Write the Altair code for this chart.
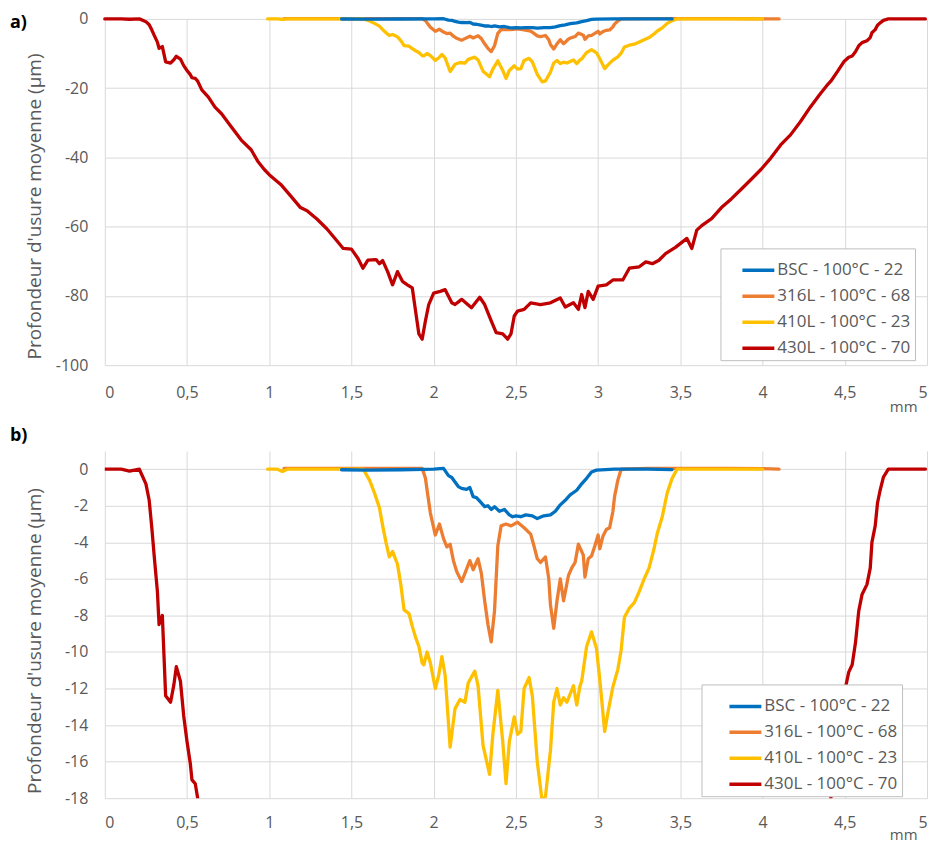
import altair as alt
import pandas as pd

FONT = "Open Sans"
GRAY = "#595959"
GRID = "#d9d9d9"

series_names = ["BSC - 100°C - 22", "316L - 100°C - 68", "410L - 100°C - 23", "430L - 100°C - 70"]
series_colors = ["#0070C0", "#ED7D31", "#FFC000", "#C00000"]
draw_order = [3, 1, 2, 0]  # bottom -> top

# (x in mm, depth in µm)
bsc_pts = [
    [1.44, -0.03], [1.6, -0.05], [1.8, -0.03], [2.0, 0.0], [2.06, 0.05], [2.09, -0.35], [2.11, -0.45],
    [2.13, -0.7], [2.15, -0.95], [2.17, -1.05], [2.20, -1.1], [2.22, -1.0], [2.24, -1.5], [2.26, -1.55],
    [2.28, -1.75], [2.31, -2.05], [2.33, -2.0], [2.35, -2.2], [2.37, -2.05], [2.40, -2.3], [2.43, -2.2],
    [2.46, -2.5], [2.48, -2.6], [2.50, -2.55], [2.53, -2.6], [2.56, -2.5], [2.60, -2.55], [2.63, -2.7],
    [2.67, -2.55], [2.71, -2.5], [2.74, -2.3], [2.77, -1.95], [2.80, -1.7], [2.83, -1.4], [2.87, -1.15],
    [2.90, -0.8], [2.93, -0.5], [2.96, -0.15], [2.99, -0.05], [3.1, 0.0], [3.3, 0.0], [3.45, -0.02],
]
s316_pts = [
    [1.09, 0.05], [1.3, 0.05], [1.5, 0.05], [1.7, 0.05], [1.93, 0.05], [1.95, -0.5], [1.96, -1.15],
    [1.98, -2.4], [2.01, -3.6], [2.035, -3.0], [2.06, -3.8], [2.08, -4.25], [2.10, -4.1], [2.12, -5.0],
    [2.14, -5.6], [2.17, -6.15], [2.19, -5.7], [2.22, -5.0], [2.23, -5.25], [2.24, -5.5], [2.27, -4.9],
    [2.29, -5.7], [2.31, -7.2], [2.33, -8.5], [2.35, -9.45], [2.37, -7.75], [2.39, -4.2], [2.41, -3.1],
    [2.44, -3.0], [2.47, -3.1], [2.51, -2.9], [2.55, -3.2], [2.59, -3.55], [2.61, -4.2], [2.63, -4.9],
    [2.65, -5.1], [2.68, -4.8], [2.70, -6.0], [2.71, -7.4], [2.73, -8.7], [2.75, -7.2], [2.77, -6.0],
    [2.79, -7.2], [2.82, -5.8], [2.84, -5.4], [2.86, -5.1], [2.88, -4.1], [2.91, -4.7], [2.92, -5.9],
    [2.94, -4.9], [2.96, -4.75], [2.98, -4.2], [3.0, -3.6], [3.01, -4.35], [3.03, -3.65], [3.05, -3.3],
    [3.07, -3.2], [3.09, -2.3], [3.10, -1.5], [3.12, -0.6], [3.14, 0.0], [3.3, 0.05], [3.5, 0.05],
    [3.8, 0.05], [4.0, 0.03], [4.1, 0.0],
]
s410_pts = [
    [0.99, 0.0], [1.05, 0.0], [1.08, -0.12], [1.11, 0.0], [1.3, 0.0], [1.5, 0.0], [1.572, 0.0],
    [1.61, -0.6], [1.64, -1.3], [1.67, -2.1], [1.69, -3.1], [1.71, -4.0], [1.73, -4.8], [1.75, -4.5],
    [1.78, -5.2], [1.80, -6.3], [1.82, -7.7], [1.85, -7.9], [1.87, -8.6], [1.89, -9.2], [1.91, -9.7],
    [1.93, -10.6], [1.94, -10.7], [1.96, -10.0], [1.98, -10.6], [2.01, -12.0], [2.03, -11.3],
    [2.05, -10.25], [2.07, -11.3], [2.10, -15.2], [2.13, -13.1], [2.16, -12.6], [2.19, -12.75],
    [2.21, -11.7], [2.25, -11.05], [2.27, -11.85], [2.30, -15.1], [2.34, -16.7], [2.36, -14.5],
    [2.39, -12.1], [2.42, -14.9], [2.44, -17.2], [2.46, -14.9], [2.49, -13.55], [2.51, -14.5],
    [2.53, -14.35], [2.55, -12.0], [2.58, -11.4], [2.60, -12.4], [2.63, -16.0], [2.66, -18.2],
    [2.68, -17.9], [2.71, -15.4], [2.73, -12.75], [2.75, -12.0], [2.77, -12.9], [2.79, -12.5],
    [2.81, -12.75], [2.85, -11.85], [2.87, -12.9], [2.89, -11.85], [2.90, -11.6], [2.93, -9.7],
    [2.96, -8.9], [2.99, -9.8], [3.01, -11.5], [3.04, -14.35], [3.06, -13.3], [3.09, -11.9],
    [3.12, -10.95], [3.14, -9.9], [3.16, -8.1], [3.19, -7.6], [3.22, -7.3], [3.25, -6.7], [3.28, -6.0],
    [3.31, -5.4], [3.34, -4.35], [3.36, -3.5], [3.39, -2.6], [3.42, -1.3], [3.45, -0.5], [3.48, 0.0],
    [3.7, 0.0], [4.0, 0.0],
]
s430_pts = [
    [0.0, 0.0], [0.1, 0.0], [0.15, -0.1], [0.21, 0.0], [0.23, -0.4], [0.25, -0.8], [0.27, -1.7],
    [0.287, -3.3], [0.30, -4.7], [0.32, -6.7], [0.33, -8.5], [0.35, -8.0], [0.36, -10.2], [0.37, -12.4],
    [0.40, -12.75], [0.42, -11.8], [0.435, -10.8], [0.46, -11.6], [0.48, -13.5], [0.50, -14.9],
    [0.52, -16.1], [0.53, -17.0], [0.55, -17.2], [0.565, -18.0], [0.59, -20.5], [0.63, -22.6],
    [0.67, -25.5], [0.71, -27.4], [0.77, -31.2], [0.83, -35.0], [0.89, -37.8], [0.93, -41.1],
    [0.97, -43.5], [1.0, -45.0], [1.07, -47.8], [1.13, -51.1], [1.19, -54.5], [1.23, -55.4],
    [1.29, -57.8], [1.35, -60.6], [1.41, -64.0], [1.45, -66.3], [1.5, -66.5], [1.54, -69.2],
    [1.57, -72.0], [1.60, -69.7], [1.65, -69.5], [1.67, -70.7], [1.69, -69.8], [1.72, -73.0],
    [1.75, -76.8], [1.78, -73.0], [1.81, -75.8], [1.84, -76.8], [1.87, -77.7], [1.89, -84.4],
    [1.91, -91.0], [1.93, -92.5], [1.95, -87.2], [1.97, -82.5], [2.0, -79.2], [2.04, -78.7],
    [2.07, -78.2], [2.11, -82.0], [2.13, -82.5], [2.17, -81.0], [2.23, -83.4], [2.28, -80.4],
    [2.31, -82.5], [2.35, -87.2], [2.38, -90.6], [2.42, -91.0], [2.45, -92.5], [2.47, -91.0],
    [2.49, -85.8], [2.51, -84.4], [2.55, -83.9], [2.59, -82.0], [2.65, -82.5], [2.71, -82.0],
    [2.77, -80.6], [2.80, -83.2], [2.85, -82.0], [2.88, -83.9], [2.90, -79.6], [2.92, -83.4],
    [2.94, -78.7], [2.97, -81.0], [3.0, -77.2], [3.05, -76.8], [3.09, -75.4], [3.15, -75.4],
    [3.19, -72.0], [3.25, -71.6], [3.29, -70.2], [3.33, -70.7], [3.37, -69.7], [3.41, -67.8],
    [3.47, -66.0], [3.54, -63.4], [3.57, -66.3], [3.60, -61.0], [3.63, -59.7], [3.69, -57.7],
    [3.75, -54.5], [3.81, -52.0], [3.87, -49.2], [3.93, -46.4], [3.99, -43.5], [4.05, -40.2],
    [4.11, -36.4], [4.17, -33.5], [4.23, -29.7], [4.29, -25.5], [4.35, -21.7], [4.39, -19.3],
    [4.415, -18.0], [4.455, -15.25], [4.494, -12.4], [4.524, -11.1], [4.545, -10.7], [4.565, -9.5],
    [4.585, -7.75], [4.605, -6.85], [4.635, -6.3], [4.655, -5.4], [4.665, -4.0], [4.685, -3.1],
    [4.699, -1.85], [4.715, -1.15], [4.735, -0.43], [4.765, 0.0], [4.9, 0.0], [4.99, 0.0],
]

x_ticks = [0, 0.5, 1, 1.5, 2, 2.5, 3, 3.5, 4, 4.5, 5]
ya_ticks = [-100, -80, -60, -40, -20, 0]
yb_ticks = [-18, -16, -14, -12, -10, -8, -6, -4, -2, 0]
panel_tags = ["a)", "b)"]
y_title = "Profondeur d'usure moyenne (µm)"
x_title = "mm"

rows = []
for name, pts in zip(series_names, [bsc_pts, s316_pts, s410_pts, s430_pts]):
    for i, (xv, yv) in enumerate(pts):
        rows.append({"serie": name, "x": xv, "y": yv, "i": i})
df = pd.DataFrame(rows)

W = 824


def panel(tag, ydom, yticks, H, leg_x, leg_y, sym_off, right_gap, clip, tag_y, mm_y, lab_pad, title_shift):
    # right_gap: number of non-breaking spaces giving the legend frame its right margin
    gap = "\u00a0" * right_gap
    color = alt.Color(
        "serie:N",
        scale=alt.Scale(domain=series_names, range=series_colors),
        sort=series_names,
        legend=alt.Legend(
            title=None, orient="none", legendX=leg_x, legendY=leg_y,
            symbolType="stroke", symbolSize=1024, symbolStrokeWidth=3.5,
            labelFont=FONT, labelFontSize=17, labelColor=GRAY, labelOffset=1,
            labelExpr="datum.label + '" + gap + "'",
            fillColor="white", strokeColor="#bfbfbf", padding=4,
            rowPadding=0, symbolOffset=sym_off,
        ),
    )
    x = alt.X(
        "x:Q",
        scale=alt.Scale(domain=[0, 5], nice=False, zero=False),
        axis=alt.Axis(
            values=x_ticks, title=x_title,
            labelExpr="replace('' + datum.value, '.', ',')",
            labelFont=FONT, labelFontSize=16, labelColor=GRAY, labelPadding=lab_pad,
            titleFont=FONT, titleFontSize=15, titleFontWeight="normal", titleColor=GRAY,
            titleX=W - 10, titleY=mm_y, titleAlign="right", titleBaseline="middle",
            domain=False, ticks=False, tickSize=0, gridColor=GRID, gridWidth=1,
        ),
    )
    y = alt.Y(
        "y:Q",
        scale=alt.Scale(domain=ydom, nice=False, zero=False),
        axis=alt.Axis(
            values=yticks, title=y_title,
            labelExpr="'' + datum.value",
            labelFont=FONT, labelFontSize=16, labelColor=GRAY, labelPadding=17,
            titleFont=FONT, titleFontSize=19, titleFontWeight="normal", titleColor=GRAY,
            titleX=-70, titleY=H / 2 + title_shift, titleAngle=270, titleAlign="center",
            titleBaseline="middle",
            domain=False, ticks=False, tickSize=0, gridColor=GRID, gridWidth=1,
        ),
    )
    layers = []
    for k in draw_order:
        layers.append(
            alt.Chart(df)
            .transform_filter(alt.datum.serie == series_names[k])
            .mark_line(strokeWidth=3.3, clip=clip, strokeJoin="round", strokeCap="round")
            .encode(x=x, y=y, color=color, order="i:Q")
        )
    tag_layer = (
        alt.Chart(pd.DataFrame({"t": [tag]}))
        .mark_text(align="left", baseline="middle", font=FONT, fontSize=18, fontWeight="bold", color="black")
        .encode(x=alt.value(-95), y=alt.value(tag_y), text="t:N")
    )
    return alt.layer(*layers, tag_layer).properties(width=W, height=H)


pa = panel(panel_tags[0], [-100, 0], ya_ticks, 347, 617, 230, 16, 4, False, 4, 41, 19, 14)
pb = panel(panel_tags[1], [-18, 1], yb_ticks, 348, 598, 234, 22, 6, True, -15, 36, 16, 16)

chart = (
    alt.vconcat(pa, pb, spacing=13)
    .resolve_scale(y="independent", color="independent")
    .resolve_legend(color="independent")
    .properties(padding={"left": 2, "top": 2, "right": 0, "bottom": 0})
    .configure_view(strokeWidth=0)
)

chart.save("out.html", embed_options={"renderer": "svg", "actions": False})
